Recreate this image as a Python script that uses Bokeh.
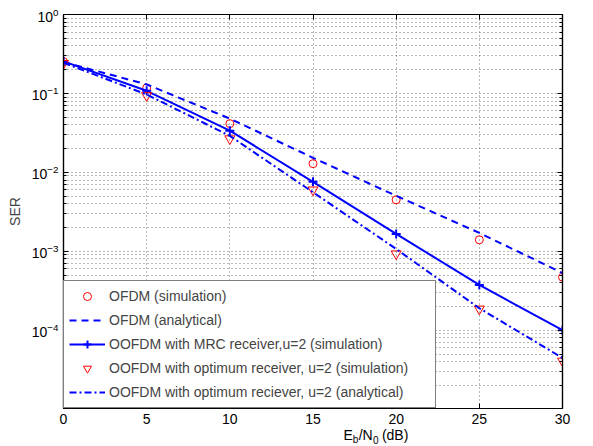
from bokeh.plotting import figure
from bokeh.layouts import column
from bokeh.models import (Range1d, FixedTicker, LinearAxis, LogAxis, Legend,
                          LegendItem, Label, ColumnDataSource)
from bokeh.embed import file_html
from bokeh.resources import INLINE

# ---- data ----
ebn0 = [0, 5, 10, 15, 20, 25, 30]
ofdm_sim = [0.253, 0.117, 0.0414, 0.0129, 0.00449, 0.0014, 0.00047]
ofdm_ana = [0.25, 0.13, 0.048, 0.0153, 0.00505, 0.00171, 0.00053]
mrc_sim = [0.255, 0.108, 0.0337, 0.0076, 0.00166, 0.000375, 0.0001]
opt_sim = [0.24, 0.094, 0.0267, 0.0060, 0.00093, 0.000186, 0.0000407]
opt_ana = [0.245, 0.097, 0.029, 0.0056, 0.00107, 0.00019, 0.0000446]

x_ticks = [0, 5, 10, 15, 20, 25, 30]
y_ticks = [1e-4, 1e-3, 1e-2, 1e-1, 1.0]
y_minor = [m * 10.0 ** e for e in range(-5, 0) for m in range(2, 10)]

labels = ["OFDM (simulation)", "OFDM (analytical)",
          "OOFDM with MRC receiver,u=2 (simulation)",
          "OOFDM with optimum receiver, u=2 (simulation)",
          "OOFDM with optimum reciever, u=2 (analytical)"]

FONT = "Liberation Sans"
BLUE = "#0000ff"
RED = "#ff0000"

p = figure(width=593, height=427, y_axis_type="log",
           x_range=Range1d(0, 30), y_range=Range1d(1.02e-5, 1.0),
           output_backend="svg", toolbar_location=None,
           min_border_left=63, min_border_top=14, min_border_right=31,
           min_border_bottom=19)
p.background_fill_color = "white"
p.outline_line_color = "black"
p.outline_line_width = 1.2

src = ColumnDataSource(dict(x=ebn0, ofdm_sim=ofdm_sim, ofdm_ana=ofdm_ana,
                            mrc_sim=mrc_sim, opt_sim=opt_sim, opt_ana=opt_ana))

r1 = p.scatter("x", "ofdm_sim", source=src, marker="circle", size=8,
               fill_color=None, line_color=RED, line_width=1)
r2 = p.line("x", "ofdm_ana", source=src, line_color=BLUE, line_width=2,
            line_dash="7 5")
r3l = p.line("x", "mrc_sim", source=src, line_color=BLUE, line_width=2)
r3m = p.scatter("x", "mrc_sim", source=src, marker="cross", size=9,
                line_color=BLUE, line_width=2)
r4 = p.scatter("x", "opt_sim", source=src, marker="inverted_triangle", size=10,
               fill_color=None, line_color=RED, line_width=1)
r5 = p.line("x", "opt_ana", source=src, line_color=BLUE, line_width=2,
            line_dash="7 3 2 3")

# axes styling
for ax in [p.xaxis[0], p.yaxis[0]]:
    ax.major_label_text_font = FONT
    ax.major_label_text_font_size = "14px"
    ax.major_label_text_color = "black"
    ax.axis_line_color = "black"
    ax.axis_line_width = 1.2
    ax.major_tick_in = 5
    ax.major_tick_out = 0
    ax.major_tick_line_color = "black"
    ax.major_label_standoff = 5

p.xaxis.ticker = FixedTicker(ticks=x_ticks)
p.xaxis.minor_tick_line_color = None
p.yaxis.ticker = FixedTicker(ticks=y_ticks, minor_ticks=y_minor)
p.yaxis.minor_tick_in = 3
p.yaxis.minor_tick_out = 0
p.yaxis.minor_tick_line_color = "black"
p.yaxis.axis_label = "SER"
p.yaxis.axis_label_text_font = FONT
p.yaxis.axis_label_text_font_size = "14px"
p.yaxis.axis_label_text_font_style = "normal"
p.yaxis.axis_label_standoff = 6

top = LinearAxis(ticker=FixedTicker(ticks=x_ticks), major_label_text_font_size="1px",
                 major_label_text_color=None,
                 major_tick_in=5, major_tick_out=0, minor_tick_line_color=None,
                 axis_line_width=1.2, major_label_standoff=0)
p.add_layout(top, "above")
right = LogAxis(ticker=FixedTicker(ticks=y_ticks, minor_ticks=y_minor),
                major_label_text_font_size="1px", major_label_text_color=None,
                major_tick_in=5, major_tick_out=0,
                minor_tick_in=3, minor_tick_out=0, axis_line_width=1.2,
                major_label_standoff=0)
p.add_layout(right, "right")

# grid
p.xgrid.ticker = FixedTicker(ticks=x_ticks)
p.ygrid.ticker = FixedTicker(ticks=y_ticks, minor_ticks=y_minor)
for g in [p.xgrid[0], p.ygrid[0]]:
    g.grid_line_color = "#333333"
    g.grid_line_alpha = 0.7
    g.grid_line_dash = "1 3"
    g.grid_line_width = 1
p.ygrid.minor_grid_line_color = "#333333"
p.ygrid.minor_grid_line_alpha = 0.7
p.ygrid.minor_grid_line_dash = "1 3"

# legend
legend = Legend(items=[
    LegendItem(label=labels[0], renderers=[r1]),
    LegendItem(label=labels[1], renderers=[r2]),
    LegendItem(label=labels[2], renderers=[r3l, r3m]),
    LegendItem(label=labels[3], renderers=[r4]),
    LegendItem(label=labels[4], renderers=[r5]),
], location="bottom_left")
legend.margin = 0
legend.padding = 5
legend.spacing = 4
legend.label_height = 20
legend.glyph_height = 20
legend.glyph_width = 36
legend.label_standoff = 4
legend.label_width = 321
legend.label_text_font = FONT
legend.label_text_font_size = "14px"
legend.border_line_color = "black"
legend.border_line_width = 1.5
legend.background_fill_color = "white"
legend.background_fill_alpha = 1.0
p.add_layout(legend)

# x-axis label "E_b/N_0 (dB)" with subscripts, in a thin strip below
p2 = figure(width=593, height=19, x_range=Range1d(0, 1), y_range=Range1d(0, 1),
            output_backend="svg", toolbar_location=None,
            x_axis_location=None, y_axis_location=None,
            min_border=0, min_border_left=0, min_border_right=0,
            min_border_top=0, min_border_bottom=0)
p2.outline_line_color = None
p2.xgrid.visible = False
p2.ygrid.visible = False

parts = [("E", 0.0, 14, 0), ("b", 9.3, 10, -5), ("/N", 15.2, 14, 0),
         ("0", 29.6, 10, -5), ("(dB)", 38.4, 14, 0)]
x0 = 280
base = 12
for txt, dx, fs, dy in parts:
    p2.add_layout(Label(x=x0 + dx, y=base + dy, x_units="screen", y_units="screen",
                        text=txt, text_font=FONT, text_font_size=f"{fs}px",
                        text_align="left", text_baseline="alphabetic",
                        text_color="black"))

layout = column(p, p2, spacing=0)
open("out.html", "w").write(file_html(layout, INLINE))
